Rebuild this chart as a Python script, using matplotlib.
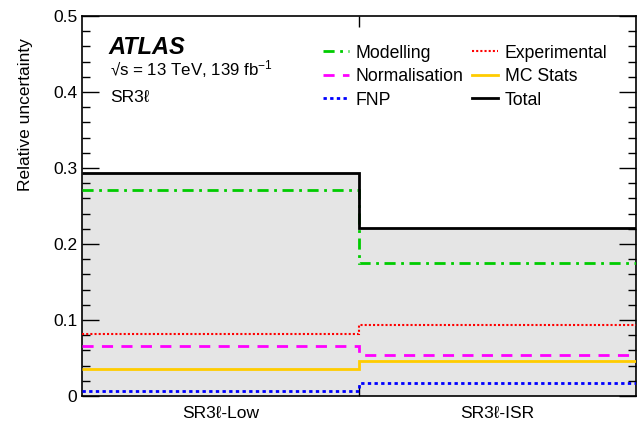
import matplotlib
matplotlib.use("Agg")
import matplotlib.pyplot as plt
import numpy as np
from matplotlib.lines import Line2D

plt.rcParams['font.family'] = ['Liberation Sans', 'DejaVu Sans']
plt.rcParams['mathtext.fontset'] = 'custom'
plt.rcParams['mathtext.rm'] = 'Liberation Sans'
plt.rcParams['mathtext.it'] = 'Liberation Sans:italic'

regions = ['SR3ℓ-Low', 'SR3ℓ-ISR']
total = [0.293, 0.221]
modelling = [0.271, 0.175]
experimental = [0.081, 0.093]
normalisation = [0.066, 0.054]
mcstats = [0.036, 0.046]
fnp = [0.007, 0.017]

edges = np.arange(len(regions) + 1)

fig = plt.figure(figsize=(6.42, 4.28), dpi=100)
ax = fig.add_axes([82/642, 32/428, 554/642, 380/428])

ax.stairs(total, edges, fill=True, color='#e5e5e5', zorder=1)
ax.stairs(total, edges, baseline=None, color='#bbbbbb', lw=1.0, zorder=1.5)
h_mod = ax.stairs(modelling, edges, baseline=None, color='#00cc00', lw=2, ls=(0, (4, 2, 1, 2)), zorder=3)
h_exp = ax.stairs(experimental, edges, baseline=None, color='#ff0000', lw=1.5, ls=(0, (1, 1)), zorder=3)
h_norm = ax.stairs(normalisation, edges, baseline=None, color='#ff00ff', lw=2, ls=(0, (4, 3)), zorder=3)
h_mc = ax.stairs(mcstats, edges, baseline=None, color='#ffcc00', lw=2, zorder=3)
h_fnp = ax.stairs(fnp, edges, baseline=None, color='#0000ff', lw=2, ls=(0, (1.2, 1.2)), zorder=3)
h_tot = ax.stairs(total, edges, baseline=None, color='black', lw=2, zorder=4)

ax.set_xlim(edges[0], edges[-1])
ax.set_ylim(0, 0.5)
ax.set_yticks(np.arange(0, 0.51, 0.1))
ax.set_yticklabels(['0', '0.1', '0.2', '0.3', '0.4', '0.5'])
ax.set_yticks(np.arange(0, 0.51, 0.02), minor=True)
ax.set_xticks(edges[1:-1])
ax.set_xticklabels([])
ax.set_xticks(edges[:-1] + 0.5, minor=True)
ax.set_xticklabels(regions, minor=True, fontsize=12.5)
ax.tick_params(axis='x', which='minor', length=0, pad=7)
ax.tick_params(axis='x', which='major', direction='in', length=8, top=True, width=1)
ax.tick_params(axis='y', which='major', direction='in', length=12, right=True, labelsize=12.5, width=1)
ax.tick_params(axis='y', which='minor', direction='in', length=6, right=True, width=1)
for s in ax.spines.values():
    s.set_linewidth(1.2)
ax.set_ylabel('Relative uncertainty', fontsize=12.5)
ax.yaxis.set_label_coords(-0.088, 0.74)

ax.text(0.047, 0.918, 'ATLAS', transform=ax.transAxes, fontsize=17, fontweight='bold', fontstyle='italic', va='center')
ax.text(0.050, 0.86, '√s = 13 TeV, 139 fb$^{\\mathregular{-1}}$', transform=ax.transAxes, fontsize=12.2, va='center')
ax.text(0.050, 0.785, 'SR3ℓ', transform=ax.transAxes, fontsize=12.5, va='center')

handles = [h_mod, h_norm, h_fnp, h_exp, h_mc, h_tot]
labels = ['Modelling', 'Normalisation', 'FNP', 'Experimental', 'MC Stats', 'Total']
proxies = [Line2D([], [], color=h.get_edgecolor(), lw=h.get_linewidth(), ls=h.get_linestyle()) for h in handles]
ax.legend(proxies, labels, ncol=2, loc='upper left', bbox_to_anchor=(0.435, 0.925), frameon=False,
          fontsize=12.7, handlelength=1.45, handletextpad=0.4, columnspacing=0.5, labelspacing=0.37,
          borderpad=0, borderaxespad=0)

fig.savefig('out.png', dpi=100)
